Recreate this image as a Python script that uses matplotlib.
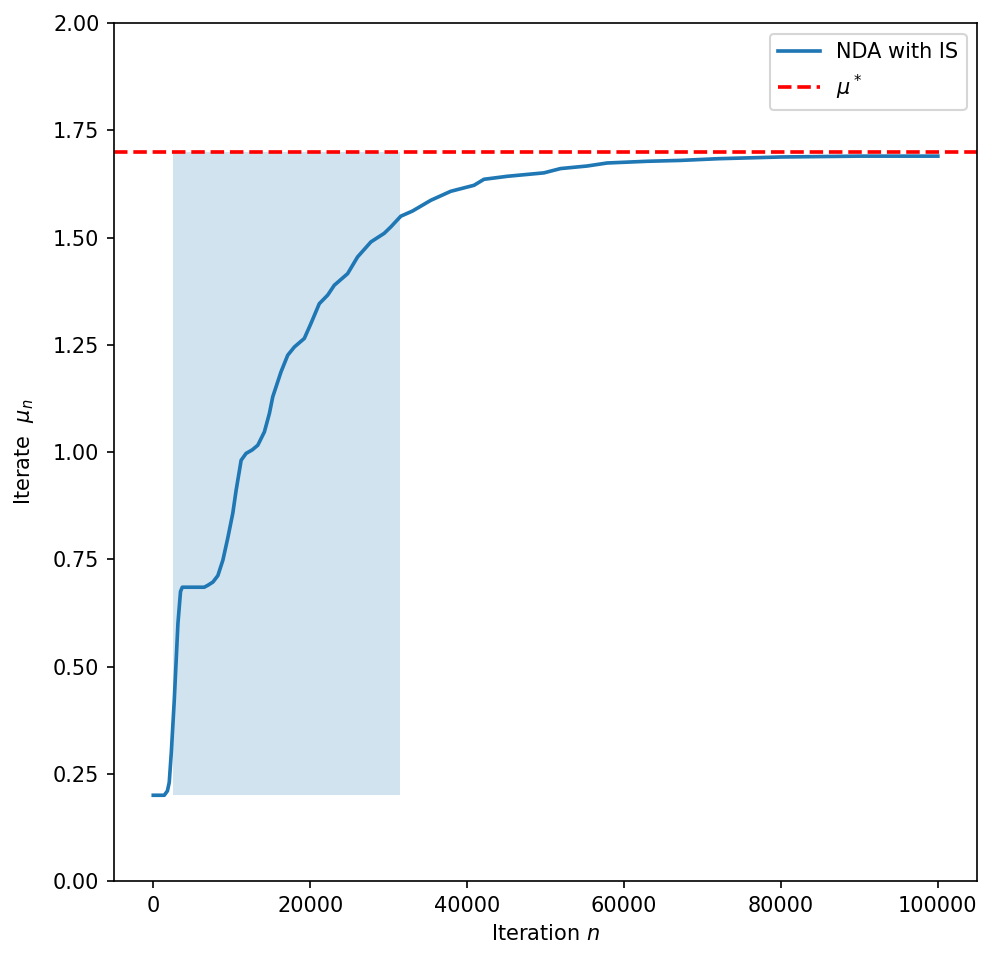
import numpy as np
import matplotlib.pyplot as plt

# iterate trace
iters = [0, 1400, 1800, 2036, 2300, 2672, 3142, 3473, 3700, 5000, 6500, 7000,
         7600, 8230, 8870, 9500, 10140, 10560, 11200, 11830, 12600, 13320, 14160,
         14800, 15230, 16280, 17140, 17980, 19250, 20100, 21160, 22230, 23070,
         24770, 26040, 27740, 29430, 30280, 31550, 33040, 35370, 37910, 40880,
         42150, 45130, 49790, 51910, 55310, 57850, 62940, 67180, 72000, 80000,
         90000, 100000]
mu_n = [0.200, 0.200, 0.210, 0.230, 0.300, 0.420, 0.600, 0.675, 0.685, 0.685,
        0.685, 0.690, 0.697, 0.712, 0.748, 0.800, 0.858, 0.911, 0.981, 0.997,
        1.005, 1.016, 1.047, 1.090, 1.129, 1.187, 1.226, 1.245, 1.265, 1.300,
        1.346, 1.366, 1.389, 1.416, 1.455, 1.490, 1.510, 1.525, 1.550, 1.562,
        1.587, 1.608, 1.622, 1.636, 1.643, 1.651, 1.661, 1.667, 1.674, 1.678,
        1.680, 1.684, 1.688, 1.690, 1.690]

mu_star = 1.7
shade_x = [2500, 31500]
shade_y = [0.2, 1.7]

fig, ax = plt.subplots(figsize=(996/150, 965/150), dpi=150)
fig.subplots_adjust(left=0.1145, right=0.981, top=0.976, bottom=0.087)

ax.fill_between(shade_x, shade_y[0], shade_y[1], color='C0', alpha=0.2, linewidth=0)
ax.plot(iters, mu_n, color='C0', lw=1.75, label='NDA with IS')
ax.axhline(mu_star, color='red', ls='--', lw=1.75, label=r'$\mu^*$')

ax.set_ylim(0, 2)
ax.set_xlabel('Iteration $n$')
ax.set_ylabel(r'Iterate  $\mu_n$', labelpad=8)
ax.legend(loc='upper right')

plt.savefig('out.png', dpi=150)
